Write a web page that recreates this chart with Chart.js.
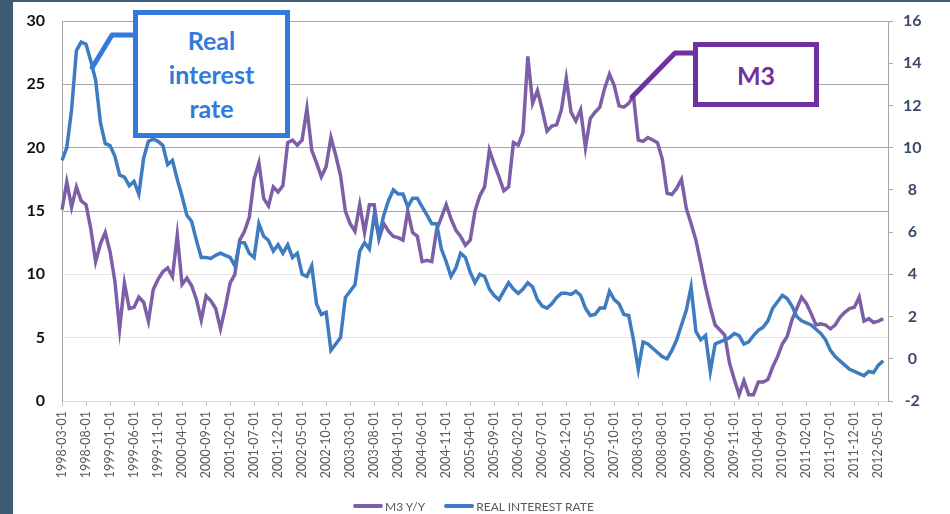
<!DOCTYPE html>
<html>
<head>
<meta charset="utf-8">
<script src="https://cdn.jsdelivr.net/npm/chart.js@4.4.1/dist/chart.umd.min.js"></script>
<style>
  html, body { margin: 0; padding: 0; background: #fff; }
  #wrap { position: relative; width: 950px; height: 514px; overflow: hidden; }
  #strip { position: absolute; left: 0; top: 0; width: 13px; height: 514px; background: #3e5b76; }
  #topline { position: absolute; left: 0; top: 0; width: 950px; height: 2px; background: #3e5b76; }
  canvas { position: absolute; left: 0; top: 0; }
  .callout {
    position: absolute; box-sizing: border-box; background: #fff; border: 5px solid;
    font-family: Lato, "Open Sans", sans-serif; font-weight: bold; font-size: 25px;
    text-align: center; display: flex; align-items: center; justify-content: center; z-index: 2;
  }
  #boxRate { left: 133px; top: 10px; width: 157px; height: 128px; border-color: #3479dc; color: #3479dc; line-height: 34px; }
  #boxM3 { left: 693px; top: 42px; width: 126px; height: 65px; border-color: #7030a0; color: #7030a0; }
  #legend {
    position: absolute; left: 353px; top: 498px; height: 16px; display: flex; align-items: center;
    font-family: Lato, sans-serif; font-size: 12px; color: #595959; white-space: nowrap;
  }
  #legend .sw { display: inline-block; width: 30px; height: 4px; border-radius: 2px; margin-right: 2px; }
  #legend .item { display: flex; align-items: center; margin-right: 19px; }
</style>
</head>
<body>
<div id="wrap">
  <canvas id="chart" width="950" height="514"></canvas>
  <div id="strip"></div>
  <div id="topline"></div>
  <div class="callout" id="boxRate">Real<br>interest<br>rate</div>
  <div class="callout" id="boxM3">M3</div>
  <div id="legend"></div>
</div>
<script>
// monthly categories 1998-03 .. 2012-07, a label every 5 months
const firstMonth = [1998, 3];
const monthCount = 173;
const labelStep = 5;

const months = [];
for (let i = 0; i < monthCount; i++) {
    const m = firstMonth[1] - 1 + i;
    const y = firstMonth[0] + Math.floor(m / 12);
    const mm = String(m % 12 + 1).padStart(2, '0');
    months.push(`${y}-${mm}-01`);
}

// M3 y/y growth, % (left axis)
const m3Yoy = [
    15.1, 17.3, 15.3, 16.9, 15.8, 15.5, 13.6, 11.0, 12.4, 13.3,
    11.8, 9.5, 5.7, 9.3, 7.3, 7.4, 8.2, 7.8, 6.3, 8.8,
    9.6, 10.2, 10.5, 9.8, 13.1, 9.2, 9.7, 9.1, 8.0, 6.4,
    8.3, 7.9, 7.3, 5.7, 7.4, 9.3, 10.0, 12.7, 13.4, 14.5,
    17.5, 18.8, 16.0, 15.4, 16.9, 16.5, 17.0, 20.4, 20.6, 20.2,
    20.6, 23.1, 19.8, 18.8, 17.7, 18.5, 20.8, 19.4, 17.8, 15.0,
    14.0, 13.4, 15.5, 13.3, 15.5, 15.5, 12.8, 14.0, 13.4, 13.0,
    12.9, 12.7, 15.0, 13.3, 13.0, 11.0, 11.1, 11.0, 13.5, 14.5,
    15.5, 14.4, 13.5, 13.0, 12.3, 12.7, 15.0, 16.2, 16.9, 19.8,
    18.7, 17.7, 16.6, 16.9, 20.4, 20.2, 21.2, 27.2, 23.5, 24.5,
    23.0, 21.3, 21.7, 21.8, 23.0, 25.5, 22.8, 22.1, 23.0, 20.0,
    22.3, 22.8, 23.2, 24.7, 25.8, 24.9, 23.3, 23.2, 23.5, 24.1,
    20.6, 20.5, 20.8, 20.6, 20.4, 19.1, 16.4, 16.3, 16.8, 17.5,
    15.2, 14.0, 12.7, 10.9, 9.0, 7.4, 6.0, 5.6, 5.2, 3.0,
    1.7, 0.5, 1.6, 0.5, 0.5, 1.5, 1.5, 1.7, 2.7, 3.5,
    4.5, 5.1, 6.4, 7.3, 8.2, 7.7, 6.9, 6.0, 6.1, 6.0,
    5.7, 6.0, 6.6, 7.0, 7.3, 7.4, 8.2, 6.3, 6.5, 6.2,
    6.3, 6.5
];

// real interest rate, % (right axis)
const realRate = [
    9.4, 10.0, 11.8, 14.6, 15.0, 14.9, 14.1, 13.2, 11.2, 10.2,
    10.1, 9.6, 8.7, 8.6, 8.2, 8.4, 7.8, 9.5, 10.3, 10.4,
    10.3, 10.1, 9.2, 9.4, 8.5, 7.7, 6.8, 6.5, 5.6, 4.8,
    4.8, 4.75, 4.9, 5.0, 4.9, 4.8, 4.4, 5.5, 5.5, 5.0,
    4.8, 6.4, 5.8, 5.6, 5.1, 5.4, 5.0, 5.4, 4.8, 5.0,
    4.0, 3.9, 4.4, 2.6, 2.1, 2.2, 0.4, 0.7, 1.0, 2.9,
    3.2, 3.5, 5.1, 5.5, 5.2, 6.8, 5.8, 6.8, 7.5, 8.0,
    7.8, 7.8, 7.2, 7.6, 7.6, 7.2, 6.8, 6.4, 6.4, 5.2,
    4.6, 3.9, 4.3, 5.0, 4.8, 4.1, 3.6, 4.0, 3.9, 3.3,
    3.0, 2.8, 3.2, 3.6, 3.3, 3.1, 3.3, 3.6, 3.4, 2.8,
    2.5, 2.4, 2.6, 2.9, 3.1, 3.1, 3.05, 3.2, 3.0, 2.4,
    2.05, 2.1, 2.4, 2.4, 3.2, 2.8, 2.6, 2.1, 2.05, 0.9,
    -0.5, 0.8, 0.7, 0.5, 0.3, 0.1, 0.0, 0.4, 0.9, 1.6,
    2.3, 3.4, 1.3, 0.9, 1.1, -0.6, 0.7, 0.8, 0.9, 1.0,
    1.2, 1.1, 0.7, 0.8, 1.1, 1.35, 1.5, 1.8, 2.4, 2.7,
    3.0, 2.85, 2.5, 2.0, 1.8, 1.7, 1.6, 1.4, 1.2, 0.9,
    0.4, 0.1, -0.1, -0.3, -0.5, -0.6, -0.7, -0.8, -0.6, -0.65,
    -0.3, -0.1
];

// where the two callout leaders touch their lines (category index, value)
const rateCallout = { index: 6.3, value: 13.8 };
const m3Callout = { index: 118.7, value: 24.0 };

const purple = '#7d5fa8';
const blue = '#3e7cc1';

const calloutLines = {
    id: 'calloutLines',
    afterDatasetsDraw(chart) {
        const { ctx, scales } = chart;
        ctx.save();
        ctx.lineWidth = 5;
        ctx.lineJoin = 'round';
        ctx.lineCap = 'round';

        ctx.strokeStyle = '#3479dc';
        ctx.beginPath();
        ctx.moveTo(136, 35);
        ctx.lineTo(112, 35);
        ctx.lineTo(scales.x.getPixelForValue(rateCallout.index), scales.y1.getPixelForValue(rateCallout.value));
        ctx.stroke();

        ctx.strokeStyle = '#7030a0';
        ctx.beginPath();
        ctx.moveTo(696, 53);
        ctx.lineTo(675, 53);
        ctx.lineTo(scales.x.getPixelForValue(m3Callout.index), scales.y.getPixelForValue(m3Callout.value));
        ctx.stroke();
        ctx.restore();
    }
};

const ctx = document.getElementById('chart').getContext('2d');
const chart = new Chart(ctx, {
    type: 'line',
    data: {
        labels: months,
        datasets: [{
            label: 'M3 Y/Y',
            data: m3Yoy,
            yAxisID: 'y',
            borderColor: purple,
            backgroundColor: purple,
            borderWidth: 3.5,
            pointRadius: 0,
            order: 1
        }, {
            label: 'REAL INTEREST RATE',
            data: realRate,
            yAxisID: 'y1',
            borderColor: blue,
            backgroundColor: blue,
            borderWidth: 3.5,
            pointRadius: 0,
            order: 0
        }]
    },
    options: {
        responsive: false,
        animation: false,
        layout: { padding: { left: 14, right: 12, top: 21, bottom: 25 } },
        plugins: {
            tooltip: { enabled: false },
            legend: { display: false }
        },
        scales: {
            x: {
                type: 'category',
                offset: false,
                afterFit: s => { s.height = 88; },
                grid: {
                    drawOnChartArea: false,
                    tickLength: 5,
                    color: c => c.index % labelStep === 0 ? '#bfbfbf' : 'rgba(0,0,0,0)'
                },
                border: { color: '#d9d9d9' },
                ticks: {
                    autoSkip: false,
                    maxRotation: 90,
                    minRotation: 90,
                    padding: 5,
                    color: '#595959',
                    font: { family: 'Lato', size: 12.5 },
                    callback: (v, i) => i % labelStep === 0 ? months[i] : ''
                }
            },
            y: {
                position: 'left',
                min: 0,
                max: 30,
                afterFit: s => { s.width = 48; },
                grid: {
                    drawTicks: true,
                    tickLength: 14,
                    tickColor: 'rgba(0,0,0,0)',
                    color: c => c.tick.value >= 15 ? '#a6a6a6' : (c.tick.value === 0 ? '#d9d9d9' : '#e6e6e6')
                },
                border: { color: '#a6a6a6' },
                ticks: {
                    stepSize: 5,
                    padding: 3,
                    color: '#111',
                    font: { family: 'Lato', size: 16, weight: 'bold' }
                }
            },
            y1: {
                position: 'right',
                min: -2,
                max: 16,
                afterFit: s => { s.width = 50; },
                grid: { drawOnChartArea: false, tickLength: 5, color: '#a6a6a6' },
                border: { color: '#a6a6a6' },
                ticks: {
                    stepSize: 2,
                    padding: 10,
                    crossAlign: 'center',
                    color: '#3b4a6b',
                    font: { family: 'Lato', size: 16, weight: 'bold' }
                }
            }
        }
    },
    plugins: [calloutLines]
});

// legend built from the chart's datasets
const legendEl = document.getElementById('legend');
chart.data.datasets.forEach(ds => {
    const item = document.createElement('span');
    item.className = 'item';
    const sw = document.createElement('span');
    sw.className = 'sw';
    sw.style.background = ds.borderColor;
    item.appendChild(sw);
    item.appendChild(document.createTextNode(ds.label));
    legendEl.appendChild(item);
});
</script>
</body>
</html>
